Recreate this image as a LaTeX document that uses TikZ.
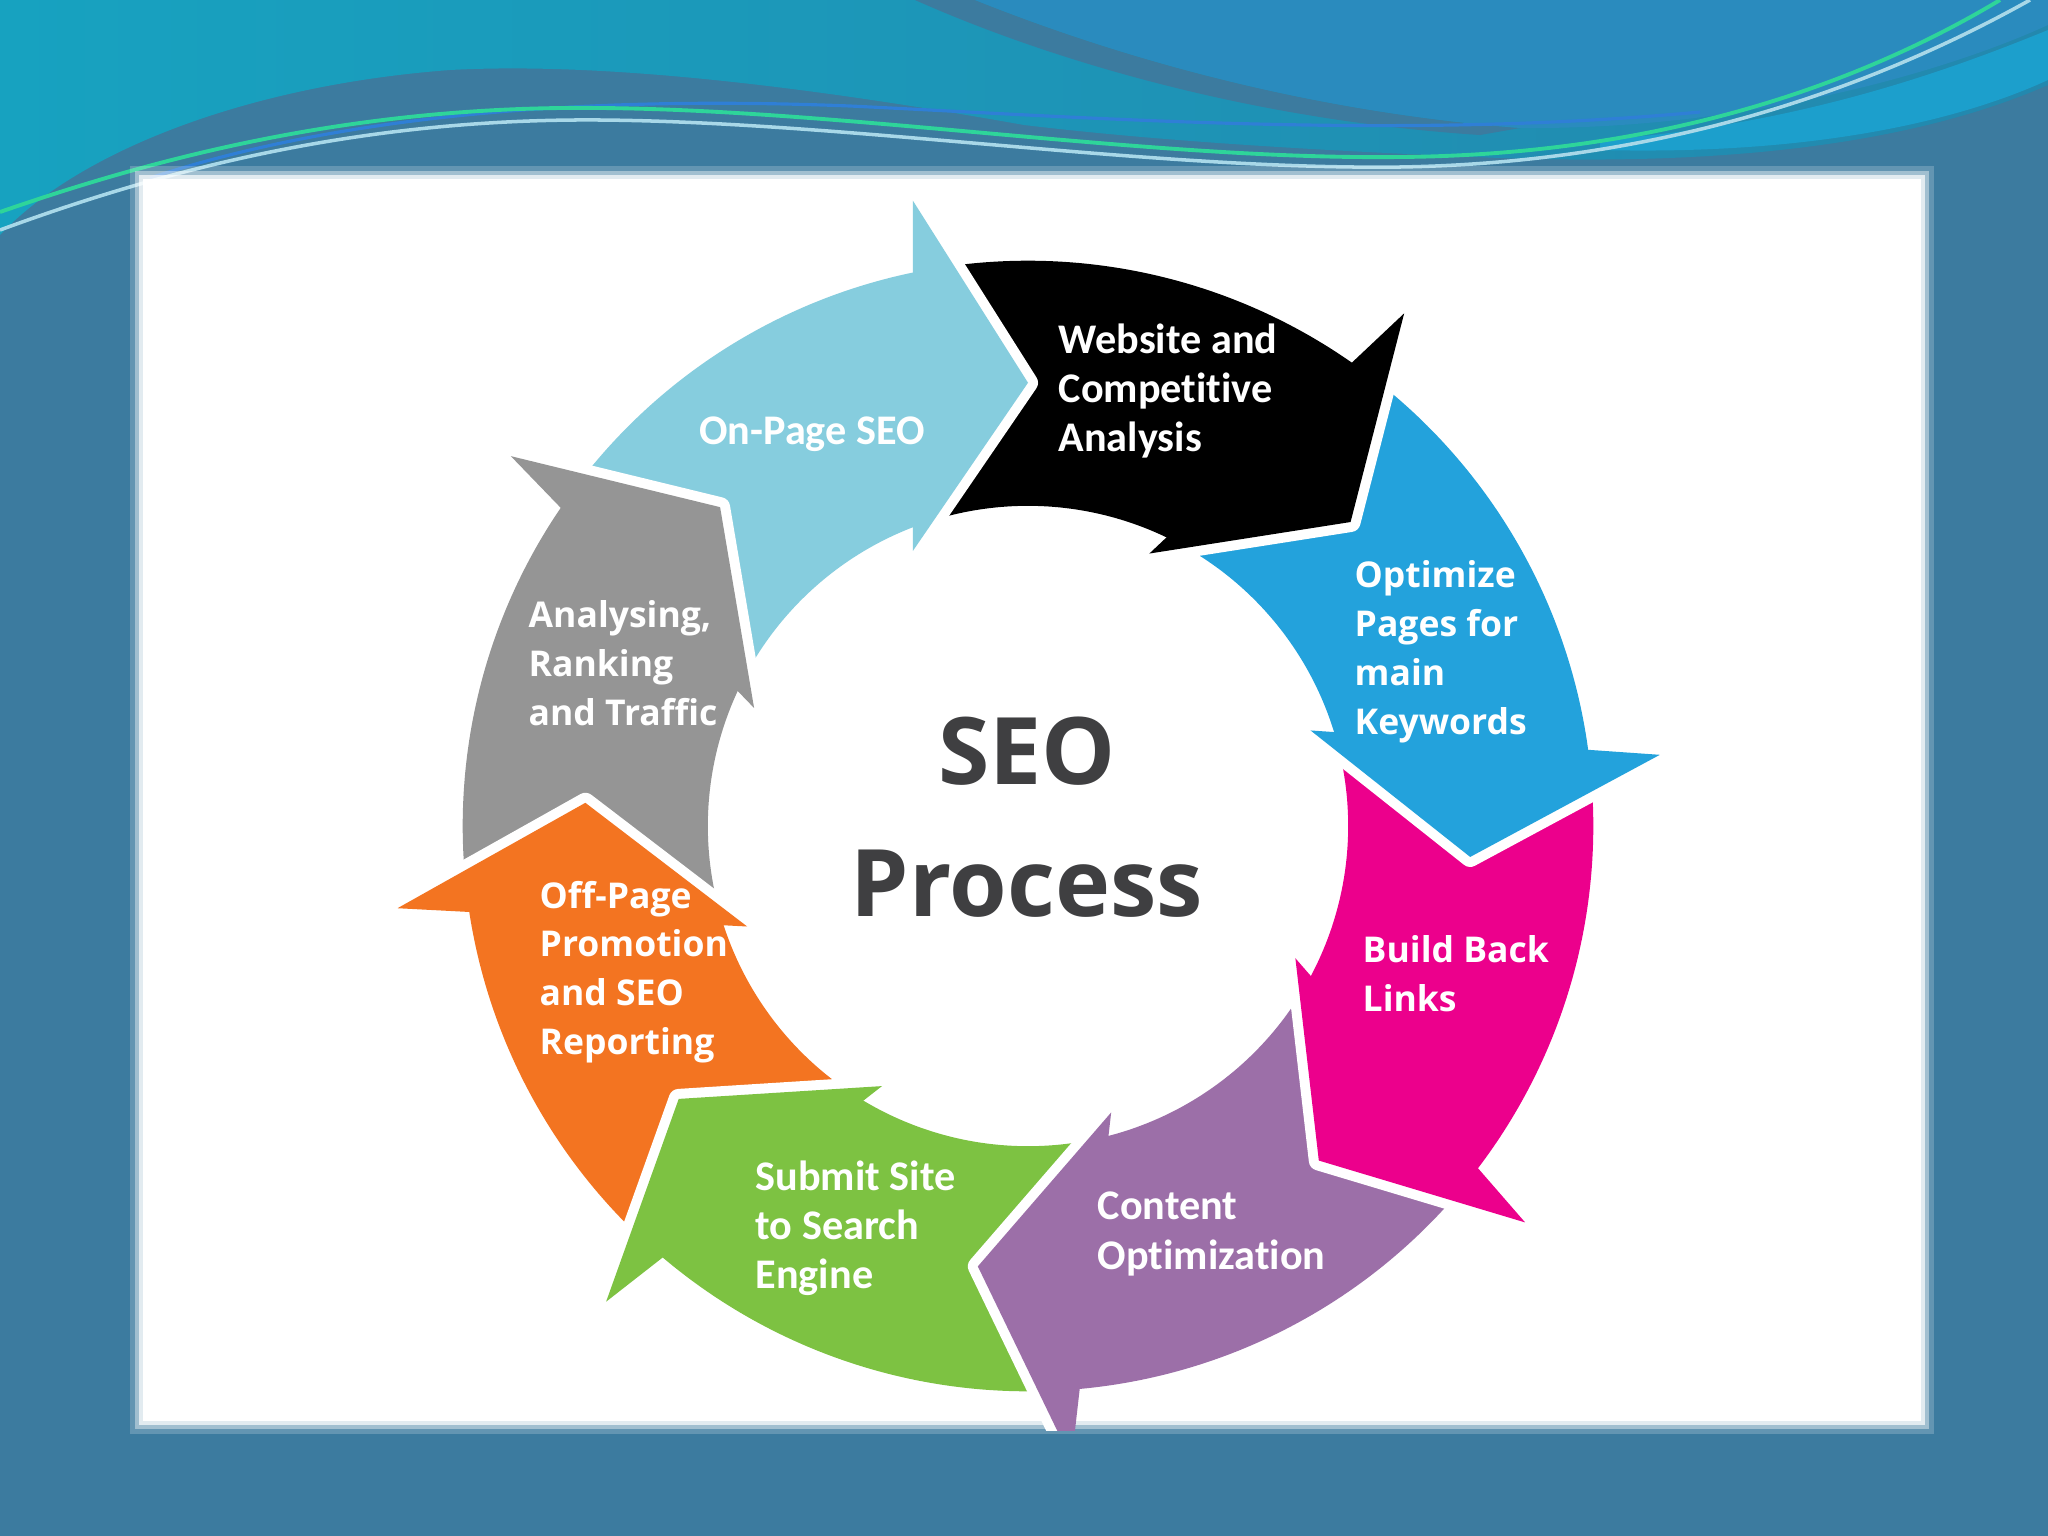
\documentclass[tikz,border=0pt]{standalone}
\usepackage{fontspec}
\setmainfont{Open Sans}
\newfontfamily\cond{Carlito}[Ligatures=NoCommon]
\usetikzlibrary{calc}
\definecolor{cLB}{HTML}{86CDDE}
\definecolor{cBK}{HTML}{000000}
\definecolor{cBL}{HTML}{23A2DC}
\definecolor{cPK}{HTML}{EC008C}
\definecolor{cPU}{HTML}{9C6FA8}
\definecolor{cGR}{HTML}{7DC242}
\definecolor{cOR}{HTML}{F37421}
\definecolor{cGY}{HTML}{959595}
\definecolor{cTX}{HTML}{3F3F41}
\definecolor{bgSteel}{HTML}{3C7B9F}
\definecolor{bgTealL}{HTML}{17A2C0}
\definecolor{bgTeal}{HTML}{2388AE}
\definecolor{bgBlue}{HTML}{2A8BBE}
\definecolor{bgCyan}{HTML}{1C9FCC}
\definecolor{lnGreen}{HTML}{2ED59A}
\definecolor{lnLight}{HTML}{A8D8E8}
\definecolor{lnBlue}{HTML}{2F7FD6}

% body: colour, tail tip angle, head tip angle
% (starts just inside the previous head and ends just inside its own head, so no seams)
\newcommand{\ringbody}[3]{%
  \fill[#1] ({#2+10.7}:5.65cm) arc[start angle={#2+10.7}, end angle={#3+10.9}, radius=5.65cm]
    -- ({#3+20.3}:3.2cm) arc[start angle={#3+20.3}, end angle={#2+20.0}, radius=3.2cm] -- cycle;}
% head: name, colour, tip angle
\newcommand{\ringhead}[3]{%
  \coordinate (#1o) at ({#3+10.43}:6.355cm);
  \coordinate (#1t) at ({#3}:4.43cm);
  \coordinate (#1i) at ({#3+22.69}:2.981cm);
  \draw[white, line width=0.2cm, line join=round] (#1o) -- (#1t) -- (#1i);
  \fill[#2] (#1o) -- (#1t) -- (#1i) -- cycle;}

\tikzset{
  lblc/.style={text=white, inner sep=0pt, align=left, anchor=west,
    font=\cond\bfseries\fontsize{12}{14}\selectfont},
  lblo/.style={text=white, inner sep=0pt, align=left, anchor=west,
    font=\bfseries\fontsize{10.1}{13.9}\selectfont},
  ctr/.style={text=cTX, inner sep=0pt, anchor=center,
    font=\bfseries\fontsize{26.5}{30}\selectfont}
}

\begin{document}
\begin{tikzpicture}[x=0.01cm, y=0.01cm]
\useasboundingbox (0,0) rectangle (2048,-1536);
% background
\fill[bgSteel] (0,0) rectangle (2048,-1536);
\shade[left color=bgTealL, right color=bgTeal] (0,0) -- (2048,0) -- (2048,-85)
  .. controls (1900,-150) and (1700,-165) .. (1500,-158)
  .. controls (1300,-150) and (1150,-140) .. (1024,-125)
  .. controls (800,-85) and (600,-62) .. (450,-70)
  .. controls (250,-85) and (80,-150) .. (0,-235) -- cycle;
\fill[bgSteel] (915,0) .. controls (1050,-60) and (1250,-120) .. (1480,-135)
  -- (1520,-128) .. controls (1290,-110) and (1100,-50) .. (975,0) -- cycle;
\fill[bgBlue] (975,0) .. controls (1100,-50) and (1290,-110) .. (1520,-128)
  .. controls (1750,-130) and (1950,-70) .. (2048,-25) -- (2048,0) -- cycle;
\fill[bgCyan] (1600,-140) .. controls (1800,-125) and (1950,-70) .. (2048,-30)
  -- (2048,-80) .. controls (1950,-125) and (1800,-155) .. (1600,-150) -- cycle;
\draw[lnBlue, line width=0.9pt] (150,-178) .. controls (350,-112) and (600,-96) .. (850,-106)
  .. controls (1100,-118) and (1400,-140) .. (1700,-112);
\draw[lnGreen, line width=1.1pt] (0,-212) .. controls (150,-160) and (350,-105) .. (600,-108)
  .. controls (850,-110) and (1150,-160) .. (1400,-157)
  .. controls (1650,-155) and (1850,-90) .. (2000,0);
\draw[lnLight, line width=1.0pt] (0,-230) .. controls (150,-175) and (350,-118) .. (600,-120)
  .. controls (850,-122) and (1150,-170) .. (1400,-167)
  .. controls (1650,-163) and (1860,-95) .. (2030,0);
% panel with soft edge
\fill[white, opacity=0.2] (130,-166) rectangle (1934,-1434);
\fill[white, opacity=0.4] (135,-171) rectangle (1929,-1429);
\fill[white, opacity=0.7] (139,-175) rectangle (1925,-1425);
\fill[white] (143,-179) rectangle (1921,-1421);
% ring of arrows
\begin{scope}
\clip (139,-175) rectangle (1925,-1430);
\begin{scope}[shift={(1028,-826)}]
\ringbody{cLB}{134}{90}
\ringbody{cBK}{90}{43.3}
\ringbody{cBL}{43.3}{-4}
\ringbody{cPK}{-4}{-49}
\ringbody{cPU}{-49}{-96.5}
\ringbody{cGR}{-96.5}{-142}
\ringbody{cOR}{-142}{-183}
\ringbody{cGY}{-183}{-226}
\ringhead{lb}{cLB}{90}
\ringhead{bk}{cBK}{43.3}
\ringhead{bl}{cBL}{-4}
\ringhead{pk}{cPK}{-49}
\ringhead{pu}{cPU}{-96.5}
\ringhead{gr}{cGR}{-142}
\ringhead{or}{cOR}{-183}
\ringhead{gy}{cGY}{-226}
\end{scope}
\end{scope}
% labels
\node[lblc, anchor=center] (t1) at (812,-434) {On-Page SEO};
\node[lblc] (t2) at (1058,-391) {Website and\\Competitive\\Analysis};
\node[lblo] (t3) at (1354,-652) {Optimize\\Pages for\\main\\Keywords};
\node[lblo] (t4) at (1362,-974) {Build Back\\Links};
\node[lblc] (t5) at (1097,-1234) {Content\\Optimization};
\node[lblc] (t6) at (755,-1228) {Submit Site\\to Search\\Engine};
\node[lblo] (t7) at (539,-972) {Off-Page\\Promotion\\and SEO\\Reporting};
\node[lblo] (t8) at (528,-663) {Analysing,\\Ranking\\and Traffic};
\node[ctr] (seo) at (1027,-751) {SEO};
\node[ctr] (proc) at (1027,-884) {Process};
\end{tikzpicture}
\end{document}
